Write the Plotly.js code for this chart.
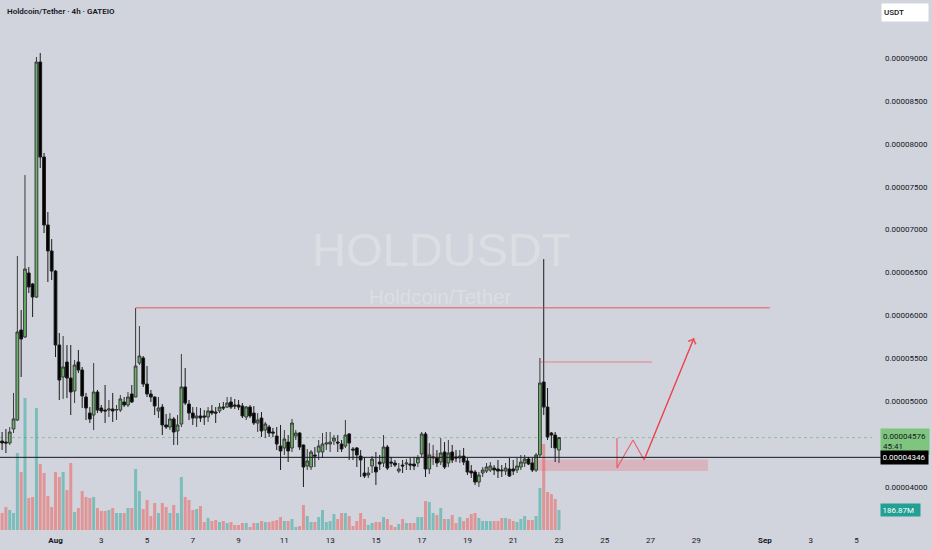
<!DOCTYPE html>
<html><head><meta charset="utf-8">
<script src="https://cdn.plot.ly/plotly-3.0.1.min.js"></script>
<style>html,body{margin:0;padding:0;background:#d1d4dc;}#chart{width:932px;height:550px;}</style>
</head><body><div id="chart"></div>
<script>
// Prices are in units of 1e-8 USDT (0.00004346 -> 4346). 4h bars starting Jul 29 16:00.
const openP = [
4536,4524,4513,4676,4781,5830,5748,6494,6366,6214,
8953,7846,7054,6751,6517,5655,5282,5457,5270,5119,
5457,5364,5049,4862,4839,5107,4921,4897,4897,4909,
4897,4897,4991,4956,5084,5049,5445,5504,5200,5084,
5049,4886,4932,4723,4699,4793,4653,4734,5166,4967,
4862,4804,4828,4828,4816,4886,4874,4886,4932,4932,
4991,4956,4956,4944,4816,4932,4862,4746,4804,4664,
4699,4641,4594,4478,4455,4524,4455,4594,4629,4490,
4245,4233,4373,4408,4408,4501,4501,4536,4524,4501,
4478,4618,4443,4455,4361,4163,4140,4245,4233,4291,
4280,4466,4291,4280,4186,4256,4268,4268,4268,4280,
4385,4618,4210,4338,4338,4291,4408,4280,4408,4350,
4338,4361,4303,4186,4175,4058,4163,4186,4198,4221,
4210,4198,4186,4210,4210,4198,4233,4280,4326,4280,
4198,4373,5224,4932,4629,4606,4431];
const highP = [
4641,4676,4699,5096,6692,6063,7636,6564,6378,9012,
9058,7893,7205,6890,6530,5795,5760,5655,5655,5480,
5597,5399,5096,4932,5445,5131,4956,5189,5014,5096,
4956,5072,5049,5107,5189,6086,5876,5527,5410,5131,
5055,5049,4967,4851,4862,4816,4839,5550,5387,5014,
4932,4932,4921,4897,4932,4956,4932,4979,4991,5049,
5049,5026,5014,4979,4944,4956,4944,4862,4874,4758,
4723,4688,4699,4723,4664,4606,4793,4664,4641,4495,
4443,4431,4466,4548,4629,4641,4641,4606,4606,4548,
4781,4629,4466,4466,4431,4350,4233,4361,4408,4373,
4606,4490,4350,4315,4280,4315,4326,4338,4350,4373,
4641,4641,4513,4490,4431,4571,4524,4548,4490,4431,
4431,4455,4338,4256,4198,4175,4233,4280,4291,4256,
4315,4256,4280,4338,4315,4338,4373,4373,4350,4338,
4396,5504,6657,5154,4641,4641,4583];
const lowP = [
4431,4396,4490,4629,4769,5282,5737,6261,5981,6203,
7718,6960,6389,6413,5515,5014,5026,5037,4839,4979,
5329,4921,4781,4746,4664,4862,4862,4746,4816,4758,
4781,4874,4932,4932,4979,5049,5422,5166,5049,4991,
4839,4804,4606,4676,4664,4490,4490,4699,4956,4781,
4723,4699,4758,4723,4758,4839,4746,4862,4897,4921,
4909,4909,4897,4804,4781,4804,4723,4641,4583,4571,
4583,4583,4431,4198,4373,4291,4408,4548,4431,4000,
4198,4198,4233,4315,4338,4431,4408,4490,4408,4408,
4455,4315,4315,4233,4117,4105,4105,4163,4023,4198,
4233,4198,4233,4233,4163,4163,4198,4198,4198,4233,
4350,4117,4151,4256,4233,4256,4210,4233,4280,4291,
4280,4256,4140,4105,4023,4000,4117,4163,4175,4140,
4105,4117,4140,4117,4140,4163,4198,4233,4256,4175,
4175,4338,4839,4548,4455,4291,4280];
const closeP = [
4513,4513,4641,4793,5807,5725,6541,6331,6214,8953,
7846,7054,6751,6517,5655,5247,5399,5270,5107,5422,
5364,5061,4921,4793,5107,4897,4886,4886,4909,4886,
4903,5026,4956,5049,4991,5410,5527,5200,5084,5049,
4944,4921,4723,4699,4793,4641,4723,5166,4979,4862,
4804,4828,4804,4816,4886,4862,4862,4932,4921,4979,
4932,4944,4932,4828,4932,4828,4746,4781,4653,4734,
4629,4629,4501,4420,4559,4420,4746,4629,4466,4233,
4303,4408,4361,4478,4501,4513,4524,4571,4513,4443,
4606,4513,4431,4373,4315,4128,4163,4326,4175,4268,
4466,4221,4280,4256,4210,4245,4280,4256,4245,4338,
4618,4210,4373,4350,4280,4396,4233,4396,4315,4338,
4361,4291,4175,4163,4058,4140,4198,4233,4245,4198,
4186,4190,4221,4128,4186,4245,4291,4326,4268,4198,
4373,5212,4932,4583,4606,4455,4576];
// Volume in millions
const volumeM = [
159,215,187,159,719,542,1233,299,308,1139,
616,532,318,215,542,495,542,374,626,168,
205,364,308,299,308,205,177,177,187,205,
159,159,159,205,205,570,364,196,280,131,
252,159,252,215,159,234,159,495,308,280,
187,196,224,75,112,84,93,75,84,65,
75,47,47,65,65,28,65,65,84,75,
75,84,93,121,84,84,103,28,37,234,
131,75,75,121,187,75,84,149,103,159,
159,131,37,84,159,103,47,65,75,75,
121,103,47,28,56,103,65,65,65,121,
121,271,262,159,140,205,103,103,140,65,
121,84,112,149,159,112,84,84,84,84,
84,112,112,103,84,75,103,131,93,93,
131,392,803,355,336,290,186.87];

const firstBarUTC = Date.UTC(2024, 6, 29, 16, 0);
const barHours = 4;
function fmt(ms){ return new Date(ms).toISOString().slice(0,16).replace('T',' '); }
const times = openP.map((_, i) => fmt(firstBarUTC + i * barHours * 3600000));

const xTickVals = ['2024-08-01','2024-08-03','2024-08-05','2024-08-07','2024-08-09','2024-08-11','2024-08-13','2024-08-15','2024-08-17','2024-08-19','2024-08-21','2024-08-23','2024-08-25','2024-08-27','2024-08-29','2024-09-01','2024-09-03','2024-09-05'];
const xTickText = ['<b>Aug</b>','3','5','7','9','11','13','15','17','19','21','23','25','27','29','<b>Sep</b>','3','5'];
const priceTickVals = [4000,5000,5500,6000,6500,7000,7500,8000,8500,9000];
const priceTickText = ['0.00004000','0.00005000','0.00005500','0.00006000','0.00006500','0.00007000','0.00007500','0.00008000','0.00008500','0.00009000'];

// Drawings
const resistanceLevel = 6090, resistanceFrom = '2024-08-04 12:00', resistanceTo = '2024-09-01 05:00';
const targetLevel = 5457, targetFrom = '2024-08-22 04:00', targetTo = '2024-08-27 01:30';
const zoneTop = 4320, zoneBottom = 4186, zoneFrom = '2024-08-21 19:30', zoneTo = '2024-08-29 12:10';
const smallZoneTop = 4396, smallZoneBottom = 4291, smallZoneFrom = '2024-08-17 01:30', smallZoneTo = '2024-08-18 13:00';
const pathX = ['2024-08-25 12:50','2024-08-25 12:50','2024-08-26 05:36','2024-08-26 17:12','2024-08-28 21:36'];
const pathY = [4571, 4221, 4548, 4315, 5737];
const lastPrice = 4576, linePrice = 4346, lastVolume = '186.87M', countdown = '45:41';

const volColors = closeP.map((c, i) => c >= openP[i] ? 'rgba(38,166,154,0.5)' : 'rgba(239,83,80,0.5)');

const traces = [
  {type:'bar', x: times, y: volumeM, xaxis:'x', yaxis:'y', marker:{color: volColors, line:{width:0}}, hoverinfo:'skip'},
  {type:'candlestick', x: times, open: openP, high: highP, low: lowP, close: closeP, xaxis:'x', yaxis:'y2',
   increasing:{line:{color:'#3a3a3a', width:1}, fillcolor:'#6ab46a'},
   decreasing:{line:{color:'#1c1c1c', width:1}, fillcolor:'#000000'},
   whiskerwidth:0, hoverinfo:'skip'},
  {type:'scatter', mode:'lines', x: pathX, y: pathY, xaxis:'x', yaxis:'y2', line:{color:'rgba(242,54,69,0.7)', width:1.2}, hoverinfo:'skip'}
];

const fontFam = 'Roboto, "Liberation Sans", sans-serif';
const wmFam = '"Liberation Sans", Arial, sans-serif';
const layout = {
  width: 932, height: 550,
  margin: {l:0, r:60, t:0, b:20, pad:0},
  paper_bgcolor:'#d1d4dc', plot_bgcolor:'#d1d4dc',
  showlegend:false, bargap:0.22, boxgap:0.2, boxgroupgap:0.1,
  font:{family: fontFam, color:'#131722', size:8},
  xaxis:{type:'date', range:['2024-07-29 13:48','2024-09-05 16:15'], tickvals:xTickVals, ticktext:xTickText,
    showgrid:false, zeroline:false, showline:false, ticks:'', ticklabelstandoff:4,
    tickfont:{size:8, color:'#131722', family: fontFam}, rangeslider:{visible:false}, fixedrange:true},
  yaxis:{range:[0, 4950], visible:false, fixedrange:true},
  yaxis2:{overlaying:'y', side:'right', anchor:'x', range:[3499, 9676], tickvals:priceTickVals, ticktext:priceTickText,
    showgrid:false, zeroline:false, showline:false, ticks:'', ticklabelstandoff:12,
    tickfont:{size:8, color:'#131722', family: fontFam}, fixedrange:true},
  shapes:[
    {type:'rect', xref:'x', yref:'y2', x0:zoneFrom, x1:zoneTo, y0:zoneBottom, y1:zoneTop, fillcolor:'rgba(242,54,69,0.2)', line:{width:0}, layer:'below'},
    {type:'rect', xref:'x', yref:'y2', x0:smallZoneFrom, x1:smallZoneTo, y0:smallZoneBottom, y1:smallZoneTop, fillcolor:'rgba(242,54,69,0.12)', line:{width:0}, layer:'below'},
    {type:'line', xref:'paper', yref:'y2', x0:0, x1:1, y0:lastPrice, y1:lastPrice, line:{color:'rgba(76,175,80,0.5)', width:1, dash:'dot'}, layer:'below'},
    {type:'line', xref:'paper', yref:'y2', x0:0, x1:1.01, y0:linePrice, y1:linePrice, line:{color:'#131722', width:1}},
    {type:'line', xref:'x', yref:'y2', x0:resistanceFrom, x1:resistanceTo, y0:resistanceLevel, y1:resistanceLevel, line:{color:'rgba(242,54,69,0.55)', width:1.5}},
    {type:'line', xref:'x', yref:'y2', x0:targetFrom, x1:targetTo, y0:targetLevel, y1:targetLevel, line:{color:'rgba(242,54,69,0.55)', width:1.2}}
  ],
  annotations:[
    {xref:'paper', yref:'paper', x:0.0057, y:0.979, xanchor:'left', yanchor:'middle', showarrow:false,
     text:'Holdcoin/Tether · 4h · GATEIO', font:{size:8, color:'#131722', family: fontFam, weight:600}},
    {xref:'paper', yref:'paper', x:441/872, y:1-249/530, xanchor:'center', yanchor:'middle', showarrow:false,
     text:'HOLDUSDT', font:{size:47, color:'rgba(255,255,255,0.25)', family: wmFam}},
    {xref:'paper', yref:'paper', x:440/872, y:1-296/530, xanchor:'center', yanchor:'middle', showarrow:false,
     text:'Holdcoin/Tether', font:{size:20.5, color:'rgba(255,255,255,0.25)', family: wmFam}},
    {xref:'x', yref:'y2', x:pathX[4], y:pathY[4], ax:pathX[3], ay:pathY[3], axref:'x', ayref:'y2', text:'', showarrow:true,
     arrowhead:4, arrowsize:1.3, arrowwidth:1.2, arrowcolor:'rgba(242,54,69,0.75)'},
    {xref:'paper', yref:'paper', x:881/872, y:1-3/530, xanchor:'left', yanchor:'top', showarrow:false,
     text:'USDT', align:'left', width:42, height:13, bgcolor:'#ffffff', borderpad:2, font:{size:8, color:'#131722', family: fontFam, weight:500}},
    {xref:'paper', yref:'y2', x:880/872, y:4536, xanchor:'left', yanchor:'middle', showarrow:false,
     text:'0.00004576<br>'+countdown, align:'left', width:44, height:21, bgcolor:'#7fc47f', borderpad:2, font:{size:8, color:'#131722', family: fontFam}},
    {xref:'paper', yref:'y2', x:880/872, y:linePrice, xanchor:'left', yanchor:'middle', showarrow:false,
     text:'0.00004346', align:'left', width:44, height:10, bgcolor:'#000000', borderpad:1.5, font:{size:8, color:'#ffffff', family: fontFam}},
    {xref:'paper', yref:'paper', x:880/872, y:1-509.5/530, xanchor:'left', yanchor:'middle', showarrow:false,
     text:lastVolume, align:'left', width:36, height:9, bgcolor:'#22a093', borderpad:1.5, font:{size:8, color:'#ffffff', family: fontFam}}
  ]
};
Plotly.newPlot('chart', traces, layout, {displayModeBar:false, staticPlot:true});
</script></body></html>
